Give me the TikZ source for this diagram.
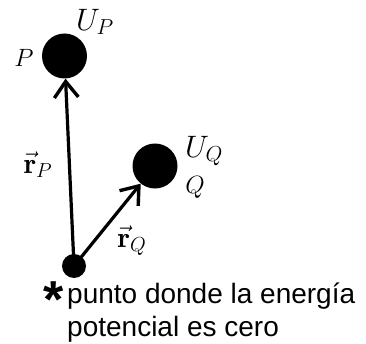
\documentclass[tikz,border=0pt]{standalone}
\usepackage{fix-cm}
\usepackage{fontspec}
\setsansfont{Liberation Sans}
\usetikzlibrary{arrows.meta}
\tikzset{
  ball/.style={circle,fill=black,inner sep=0pt,minimum size=#1},
  vecarrow/.style={line width=3.2pt,-{Straight Barb[length=16pt,width=24pt,line width=3.4pt]}},
  bigmath/.style={inner sep=0pt,font=\fontsize{31}{36}\selectfont},
  midmath/.style={inner sep=0pt,font=\fontsize{25}{30}\selectfont},
  rmath/.style={inner sep=0pt,font=\fontsize{29}{34}\selectfont},
  note/.style={inner sep=0pt,font=\sffamily\fontsize{28}{33}\selectfont}
}
\begin{document}
\begin{tikzpicture}[x=1pt,y=1pt]
\useasboundingbox (0,0) rectangle (366,343);
\node[ball=24pt] (O) at (74,77) {};
\node[ball=45pt] (P) at (64.5,287) {};
\node[ball=45pt] (Q) at (155,177) {};
\draw[vecarrow] (O.center) -- (P);
\draw[vecarrow] (O.center) -- (Q);
\node[bigmath] (UP) at (95,321) {$U_P$};
\node[midmath] (Plab) at (24,285) {$P$};
\node[rmath] (rP) at (38,178) {$\vec{\mathbf{r}}_P$};
\node[bigmath] (UQ) at (204,192) {$U_Q$};
\node[midmath] (Qlab) at (195,155.5) {$Q$};
\node[rmath] (rQ) at (132,102) {$\vec{\mathbf{r}}_Q$};
\node[inner sep=0pt,font=\sffamily\bfseries\fontsize{52}{52}\selectfont] (star) at (53.5,43) {*};
\node[note,anchor=base west] (txt1) at (67,40) {punto donde la energía};
\node[note,anchor=base west] (txt2) at (67,7) {potencial es cero};
\end{tikzpicture}
\end{document}
